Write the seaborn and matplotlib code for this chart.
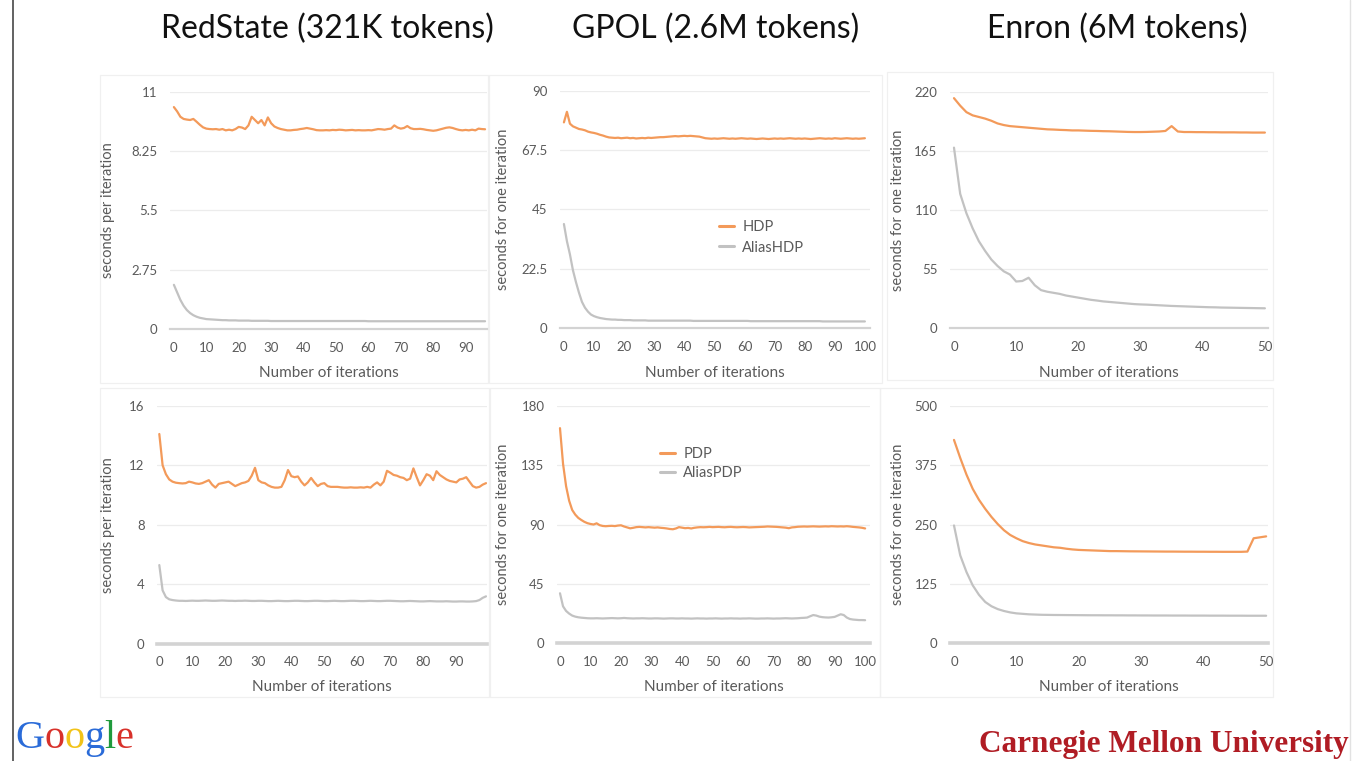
import numpy as np
import pandas as pd
import matplotlib
matplotlib.use("Agg")
import matplotlib.pyplot as plt
import seaborn as sns
from matplotlib.patches import Rectangle
from matplotlib.lines import Line2D

# ---------------- data ----------------
titles = ["RedState (321K tokens)", "GPOL (2.6M tokens)", "Enron (6M tokens)"]

# RedState, HDP / AliasHDP (iterations 0..96)
redstate_hdp = [10.30, 10.10, 9.85, 9.75, 9.72, 9.70, 9.75, 9.62, 9.48, 9.36,
                9.30, 9.28, 9.27, 9.28, 9.25, 9.28, 9.22, 9.25, 9.22, 9.28,
                9.38, 9.35, 9.28, 9.45, 9.85, 9.70, 9.55, 9.70, 9.45, 9.82,
                9.55, 9.40, 9.33, 9.28, 9.25, 9.22, 9.22, 9.24, 9.25, 9.28,
                9.30, 9.33, 9.30, 9.27, 9.23, 9.22, 9.22, 9.23, 9.22, 9.24,
                9.23, 9.25, 9.24, 9.22, 9.23, 9.24, 9.22, 9.23, 9.22, 9.22,
                9.23, 9.22, 9.25, 9.28, 9.27, 9.25, 9.28, 9.30, 9.45, 9.35,
                9.30, 9.33, 9.42, 9.32, 9.28, 9.28, 9.29, 9.27, 9.24, 9.22,
                9.20, 9.22, 9.26, 9.30, 9.34, 9.36, 9.33, 9.28, 9.24, 9.22,
                9.24, 9.22, 9.25, 9.22, 9.30, 9.28, 9.27]
redstate_aliashdp = [2.05, 1.70, 1.35, 1.08, 0.88, 0.74, 0.64, 0.57, 0.52, 0.49,
                     0.46, 0.45, 0.44, 0.43, 0.42, 0.41, 0.41, 0.40, 0.40, 0.40,
                     0.39, 0.39, 0.39, 0.39, 0.38, 0.38, 0.38, 0.38, 0.38, 0.38,
                     0.37, 0.37, 0.37, 0.37, 0.37, 0.37, 0.37, 0.37, 0.37, 0.37,
                     0.37, 0.37, 0.37, 0.37, 0.37, 0.37, 0.37, 0.37, 0.37, 0.37,
                     0.37, 0.37, 0.37, 0.37, 0.37, 0.37, 0.37, 0.37, 0.37, 0.37,
                     0.36, 0.36, 0.36, 0.36, 0.36, 0.36, 0.36, 0.36, 0.36, 0.36,
                     0.36, 0.36, 0.36, 0.36, 0.36, 0.36, 0.36, 0.36, 0.36, 0.36,
                     0.36, 0.36, 0.36, 0.36, 0.36, 0.36, 0.36, 0.36, 0.36, 0.36,
                     0.36, 0.36, 0.36, 0.36, 0.36, 0.36, 0.36]

# GPOL, HDP / AliasHDP (iterations 0..100)
gpol_hdp = [78.0, 82.0, 77.5, 76.5, 76.0, 75.5, 75.3, 75.0, 74.5, 74.2,
            74.0, 73.7, 73.3, 73.0, 72.6, 72.3, 72.2, 72.1, 72.2, 72.0,
            72.1, 72.2, 72.0, 72.1, 71.9, 72.0, 72.1, 72.0, 72.2, 72.1,
            72.2, 72.3, 72.4, 72.4, 72.5, 72.6, 72.7, 72.8, 72.7, 72.8,
            72.9, 72.8, 72.9, 72.8, 72.7, 72.6, 72.3, 72.0, 71.9, 71.8,
            71.9, 71.8, 71.9, 72.0, 71.9, 71.8, 71.9, 71.8, 71.9, 72.0,
            71.9, 71.8, 71.9, 71.8, 71.7, 71.8, 71.9, 71.8, 71.7, 71.8,
            71.9, 71.8, 71.9, 71.8, 71.9, 72.0, 71.9, 71.8, 71.9, 71.8,
            71.9, 71.8, 71.7, 71.8, 71.9, 72.0, 71.9, 71.8, 71.9, 71.8,
            72.0, 71.9, 71.8, 71.9, 72.0, 71.9, 71.8, 71.9, 71.8, 71.9, 72.0]
gpol_aliashdp = [39.5, 33.0, 28.0, 22.0, 17.5, 13.5, 10.0, 7.8, 6.3, 5.2,
                 4.6, 4.2, 3.9, 3.7, 3.5, 3.4, 3.3, 3.3, 3.2, 3.2,
                 3.1, 3.1, 3.1, 3.0, 3.0, 3.0, 3.0, 3.0, 2.9, 2.9,
                 2.9, 2.9, 2.9, 2.9, 2.9, 2.9, 2.9, 2.9, 2.9, 2.9,
                 2.9, 2.9, 2.9, 2.8, 2.8, 2.8, 2.8, 2.8, 2.8, 2.8,
                 2.8, 2.8, 2.8, 2.8, 2.8, 2.8, 2.8, 2.8, 2.8, 2.8,
                 2.8, 2.8, 2.7, 2.7, 2.7, 2.7, 2.7, 2.7, 2.7, 2.7,
                 2.7, 2.7, 2.7, 2.7, 2.7, 2.7, 2.7, 2.7, 2.7, 2.7,
                 2.7, 2.7, 2.7, 2.7, 2.7, 2.7, 2.6, 2.6, 2.6, 2.6,
                 2.6, 2.6, 2.6, 2.6, 2.6, 2.6, 2.6, 2.6, 2.6, 2.6, 2.6]

# Enron, HDP / AliasHDP (iterations 0..50)
enron_hdp = [214, 207, 201, 198, 196.5, 195, 193, 190.5, 189, 188,
             187.5, 187, 186.5, 186, 185.5, 185, 184.8, 184.5, 184.3, 184,
             184, 183.8, 183.6, 183.5, 183.3, 183.2, 183, 182.8, 182.6, 182.5,
             182.5, 182.6, 182.8, 183, 183.5, 188, 183, 182.5, 182.5, 182.4,
             182.4, 182.3, 182.3, 182.2, 182.2, 182.2, 182.1, 182.1, 182.0, 182.0, 182.0]
enron_aliashdp = [168, 125, 107, 93, 81, 72, 64, 58, 53, 50,
                  43.5, 44, 47, 40, 35.5, 34, 33, 32, 30.5, 29.5,
                  28.5, 27.5, 26.5, 25.8, 25, 24.5, 24, 23.5, 23, 22.5,
                  22.2, 22, 21.7, 21.4, 21.1, 20.8, 20.6, 20.4, 20.2, 20,
                  19.8, 19.6, 19.5, 19.3, 19.2, 19.1, 19, 18.9, 18.8, 18.7, 18.6]

# RedState, PDP / AliasPDP (iterations 0..99)
redstate_pdp = [14.10, 12.00, 11.40, 11.05, 10.90, 10.83, 10.80, 10.78, 10.80, 10.90,
                10.85, 10.78, 10.75, 10.80, 10.90, 11.00, 10.70, 10.50, 10.75, 10.80,
                10.85, 10.90, 10.75, 10.60, 10.70, 10.80, 10.85, 10.95, 11.30, 11.83,
                11.00, 10.85, 10.80, 10.65, 10.55, 10.50, 10.50, 10.55, 11.00, 11.68,
                11.27, 11.20, 11.25, 10.90, 10.65, 10.85, 11.15, 10.85, 10.60, 10.75,
                10.80, 10.60, 10.55, 10.55, 10.55, 10.52, 10.50, 10.50, 10.52, 10.50,
                10.50, 10.52, 10.50, 10.55, 10.50, 10.70, 10.85, 10.65, 10.90, 11.63,
                11.50, 11.35, 11.30, 11.20, 11.15, 11.00, 11.10, 11.79, 11.20, 10.65,
                11.00, 11.40, 11.30, 11.00, 11.60, 11.35, 11.20, 11.05, 10.95, 10.90,
                10.85, 11.05, 11.10, 11.20, 10.90, 10.60, 10.50, 10.55, 10.70, 10.80]
redstate_aliaspdp = [5.30, 3.60, 3.15, 3.00, 2.95, 2.92, 2.90, 2.90, 2.89, 2.90,
                     2.91, 2.90, 2.90, 2.91, 2.92, 2.91, 2.90, 2.90, 2.91, 2.92,
                     2.91, 2.90, 2.90, 2.89, 2.90, 2.90, 2.91, 2.90, 2.89, 2.89,
                     2.90, 2.90, 2.89, 2.88, 2.88, 2.89, 2.90, 2.89, 2.88, 2.88,
                     2.89, 2.90, 2.90, 2.89, 2.88, 2.88, 2.89, 2.90, 2.90, 2.89,
                     2.88, 2.88, 2.89, 2.90, 2.89, 2.88, 2.88, 2.89, 2.90, 2.90,
                     2.89, 2.88, 2.88, 2.89, 2.90, 2.89, 2.88, 2.88, 2.89, 2.90,
                     2.90, 2.89, 2.88, 2.87, 2.87, 2.88, 2.89, 2.88, 2.87, 2.86,
                     2.86, 2.87, 2.88, 2.87, 2.86, 2.86, 2.86, 2.87, 2.86, 2.85,
                     2.85, 2.86, 2.86, 2.85, 2.85, 2.86, 2.88, 2.95, 3.10, 3.20]

# GPOL, PDP / AliasPDP (iterations 0..100)
gpol_pdp = [163, 136, 119, 108, 101, 97.5, 95, 93.4, 92, 91,
            90.4, 90, 90.9, 89.5, 88.9, 88.7, 88.9, 89, 88.8, 89.2,
            89.4, 88.5, 87.8, 87.1, 87.5, 88, 88.2, 88, 87.8, 88,
            87.8, 87.6, 87.8, 87.5, 87.3, 87, 86.6, 86.4, 87, 88,
            87.6, 87.2, 87.4, 87, 87.5, 87.8, 88, 87.9, 88, 88.2,
            88, 88.1, 88.2, 88, 87.9, 88.1, 88.2, 88, 87.9, 88,
            88.1, 88, 87.8, 87.9, 88, 88.1, 88.2, 88.3, 88.5, 88.4,
            88.3, 88.2, 88, 87.8, 87.6, 87.2, 87.8, 88, 88.3, 88.4,
            88.5, 88.4, 88.5, 88.6, 88.5, 88.4, 88.5, 88.6, 88.5, 88.7,
            88.6, 88.5, 88.6, 88.5, 88.7, 88.5, 88.2, 88, 87.8, 87.5, 87]
gpol_aliaspdp = [37.9, 28.0, 24.5, 22.5, 21.0, 20.2, 19.7, 19.4, 19.2, 19.0,
                 18.9, 18.9, 19.0, 18.9, 18.8, 18.9, 19.0, 19.1, 19.0, 18.9,
                 19.0, 19.2, 19.0, 18.9, 18.8, 18.9, 18.9, 19.0, 18.9, 18.8,
                 18.8, 18.9, 18.9, 18.8, 18.7, 18.8, 18.9, 18.9, 18.8, 18.8,
                 18.9, 18.8, 18.8, 18.7, 18.8, 18.9, 18.8, 18.8, 18.7, 18.8,
                 18.8, 18.9, 18.8, 18.7, 18.8, 18.8, 18.9, 18.8, 18.8, 18.7,
                 18.8, 18.8, 18.9, 18.8, 18.7, 18.7, 18.8, 18.8, 18.9, 18.8,
                 18.7, 18.8, 18.8, 18.9, 19.0, 18.9, 18.8, 18.9, 19.0, 19.2,
                 19.3, 19.5, 20.5, 21.4, 21.0, 20.2, 19.8, 19.6, 19.5, 19.7,
                 20.0, 21.0, 22.0, 21.4, 19.5, 18.4, 18.0, 17.8, 17.6, 17.6, 17.5]

# Enron, PDP / AliasPDP (iterations 0..50)
enron_pdp = [428, 390, 355, 325, 302, 283, 266, 251, 238, 228,
             221, 215, 211, 208, 206, 204, 202, 201, 199, 197.5,
             196.5, 196, 195.5, 195, 194.5, 194, 194, 193.8, 193.6, 193.5,
             193.4, 193.3, 193.2, 193.1, 193, 193, 192.9, 192.8, 192.8, 192.7,
             192.7, 192.6, 192.6, 192.5, 192.5, 192.5, 192.5, 193, 221, 223, 225]
enron_aliaspdp = [248, 185, 150, 122, 102, 87, 78, 72, 68, 65,
                  63, 62, 61, 60.5, 60, 59.8, 59.6, 59.5, 59.4, 59.3,
                  59.2, 59.1, 59.0, 59.0, 58.9, 58.9, 58.8, 58.8, 58.7, 58.7,
                  58.6, 58.6, 58.5, 58.5, 58.5, 58.4, 58.4, 58.4, 58.3, 58.3,
                  58.3, 58.2, 58.2, 58.2, 58.1, 58.1, 58.1, 58.0, 58.0, 58.0, 58.0]

yticks_rs_hdp = [0, 2.75, 5.5, 8.25, 11]
yticks_gpol_hdp = [0, 22.5, 45, 67.5, 90]
yticks_enron_hdp = [0, 55, 110, 165, 220]
yticks_rs_pdp = [0, 4, 8, 12, 16]
yticks_gpol_pdp = [0, 45, 90, 135, 180]
yticks_enron_pdp = [0, 125, 250, 375, 500]
ytick_labels_rs_hdp = ["0", "2.75", "5.5", "8.25", "11"]
ytick_labels_gpol_hdp = ["0", "22.5", "45", "67.5", "90"]
xticks_100 = [0, 10, 20, 30, 40, 50, 60, 70, 80, 90, 100]
xticks_90 = [0, 10, 20, 30, 40, 50, 60, 70, 80, 90]
xticks_50 = [0, 10, 20, 30, 40, 50]

# ---------------- style ----------------
sns.set_theme(style="white")
plt.rcParams['font.family'] = ['Lato', 'DejaVu Sans']

W, H = 1356, 761
fig = plt.figure(figsize=(W / 100, H / 100), dpi=100)
fig.patch.set_facecolor("white")

ORANGE = "#F39A5A"
GRAY = "#C2C2C2"
TXT = "#5A5A5A"


def fx(p):
    return p / W


def fy(p):
    return 1 - p / H


def make_df(a_name, a_vals, b_name, b_vals):
    return pd.concat([
        pd.DataFrame({"iteration": np.arange(len(a_vals)), "seconds": a_vals, "method": a_name}),
        pd.DataFrame({"iteration": np.arange(len(b_vals)), "seconds": b_vals, "method": b_name}),
    ], ignore_index=True)


panels = [
    dict(df=make_df("HDP", redstate_hdp, "AliasHDP", redstate_aliashdp), names=("HDP", "AliasHDP"),
         box=(170, 487, 92, 329), xlim=(-1.2, 96.6), yt=yticks_rs_hdp, ytl=ytick_labels_rs_hdp,
         xt=xticks_90, ylabel="seconds per iteration", ylab_px=108, zero_lw=1.6, legend=None),
    dict(df=make_df("HDP", gpol_hdp, "AliasHDP", gpol_aliashdp), names=("HDP", "AliasHDP"),
         box=(560, 870, 90.7, 328.3), xlim=(-1.3, 101.7), yt=yticks_gpol_hdp, ytl=ytick_labels_gpol_hdp,
         xt=xticks_100, ylabel="seconds for one iteration", ylab_px=503, zero_lw=1.6,
         legend=(719, 220, 0.45)),
    dict(df=make_df("HDP", enron_hdp, "AliasHDP", enron_aliashdp), names=("HDP", "AliasHDP"),
         box=(950, 1268, 91.7, 328.3), xlim=(-0.64, 50.5), yt=yticks_enron_hdp, ytl=None,
         xt=xticks_50, ylabel="seconds for one iteration", ylab_px=898, zero_lw=1.6, legend=None),
    dict(df=make_df("PDP", redstate_pdp, "AliasPDP", redstate_aliaspdp), names=("PDP", "AliasPDP"),
         box=(157, 487, 405.7, 644), xlim=(-0.7, 99.3), yt=yticks_rs_pdp, ytl=None,
         xt=xticks_90, ylabel="seconds per iteration", ylab_px=108, zero_lw=2.6, legend=None),
    dict(df=make_df("PDP", gpol_pdp, "AliasPDP", gpol_aliaspdp), names=("PDP", "AliasPDP"),
         box=(557, 870, 405.7, 643.3), xlim=(-0.98, 101.6), yt=yticks_gpol_pdp, ytl=None,
         xt=xticks_100, ylabel="seconds for one iteration", ylab_px=503, zero_lw=2.6,
         legend=(660, 447, 0.35)),
    dict(df=make_df("PDP", enron_pdp, "AliasPDP", enron_aliaspdp), names=("PDP", "AliasPDP"),
         box=(950, 1268, 405.7, 643.3), xlim=(-0.64, 50.3), yt=yticks_enron_pdp, ytl=None,
         xt=xticks_50, ylabel="seconds for one iteration", ylab_px=898, zero_lw=2.6, legend=None),
]

# faint chart-area frames
frames = [(100, 488, 75, 383), (489, 882, 75, 383), (887, 1273, 72, 380),
          (100, 489, 388, 697), (490, 880, 388, 697), (880, 1273, 388, 697)]
for (l, r, t, b) in frames:
    fig.add_artist(Rectangle((fx(l), fy(b)), fx(r) - fx(l), (b - t) / H, transform=fig.transFigure,
                             fill=False, edgecolor="#F0F0F0", lw=0.9, zorder=0))

for p in panels:
    l, r, t, b = p["box"]
    ax = fig.add_axes([fx(l), fy(b), fx(r) - fx(l), (b - t) / H])
    a, bn = p["names"]
    sns.lineplot(data=p["df"], x="iteration", y="seconds", hue="method",
                 palette={a: ORANGE, bn: GRAY}, linewidth=1.6, ax=ax, legend=False)
    ax.set_xlim(*p["xlim"])
    ax.set_ylim(0, p["yt"][-1])
    ax.set_yticks(p["yt"])
    if p["ytl"] is not None:
        ax.set_yticklabels(p["ytl"])
    ax.set_xticks(p["xt"])
    ax.grid(axis="y", color="#ECECEC", lw=0.9)
    ax.grid(axis="x", visible=False)
    ax.set_axisbelow(True)
    for s in ("top", "left", "right"):
        ax.spines[s].set_visible(False)
    ax.spines["bottom"].set_color("#D3D3D3")
    ax.spines["bottom"].set_linewidth(p["zero_lw"])
    ax.tick_params(axis="both", length=0, labelsize=9.5, colors=TXT)
    ax.tick_params(axis="x", pad=9)
    ax.tick_params(axis="y", pad=9)
    ax.set_xlabel("Number of iterations", fontsize=11, color=TXT)
    ax.set_ylabel(p["ylabel"], fontsize=10.5, color=TXT)
    yc = 373 if t < 200 else 687
    ax.xaxis.set_label_coords(0.5, -(yc - b) / (b - t))
    ax.xaxis.label.set_va("center")
    ax.yaxis.label.set_va("center")
    ax.yaxis.set_label_coords((p["ylab_px"] - l) / (r - l), 0.5)
    ax.patch.set_alpha(0)
    if p["legend"] is not None:
        lx, ly, sp = p["legend"]
        handles = [Line2D([], [], color=ORANGE, lw=2.2), Line2D([], [], color=GRAY, lw=2.2)]
        ax.legend(handles, [a, bn], loc="upper left",
                  bbox_to_anchor=((lx - l) / (r - l), (b - ly) / (b - t)),
                  frameon=False, fontsize=10.5, labelcolor=TXT, handlelength=1.0,
                  handletextpad=0.6, labelspacing=sp, borderpad=0, borderaxespad=0)

# titles
title_x = [327, 716, 1117]
for tx, tt in zip(title_x, titles):
    fig.text(fx(tx), fy(29), tt, ha="center", va="center", fontsize=23, color="#111111")

# slide border lines
fig.add_artist(Line2D([fx(12.5), fx(12.5)], [0, 1], transform=fig.transFigure, color="#555555", lw=1.3))
fig.add_artist(Line2D([fx(1350), fx(1350)], [0, 1], transform=fig.transFigure, color="#E2E2E2", lw=1.0))

# logos as text
renderer = fig.canvas.get_renderer()
letters = ["G", "o", "o", "g", "l", "e"]
letter_colors = ["#2A6BD8", "#D8312A", "#F2C318", "#2A6BD8", "#1F9A3C", "#D8312A"]
xpos = 15
for ch, col in zip(letters, letter_colors):
    t = fig.text(fx(xpos), fy(748), ch, ha="left", va="baseline", fontsize=29,
                 family="Liberation Serif", color=col)
    bb = t.get_window_extent(renderer)
    xpos = bb.x1
fig.text(fx(1349), fy(752), "Carnegie Mellon University", ha="right", va="baseline",
         fontsize=22.5, family="Liberation Serif", weight="bold", color="#B01C24")

fig.savefig("out.png", dpi=100, facecolor="white")
